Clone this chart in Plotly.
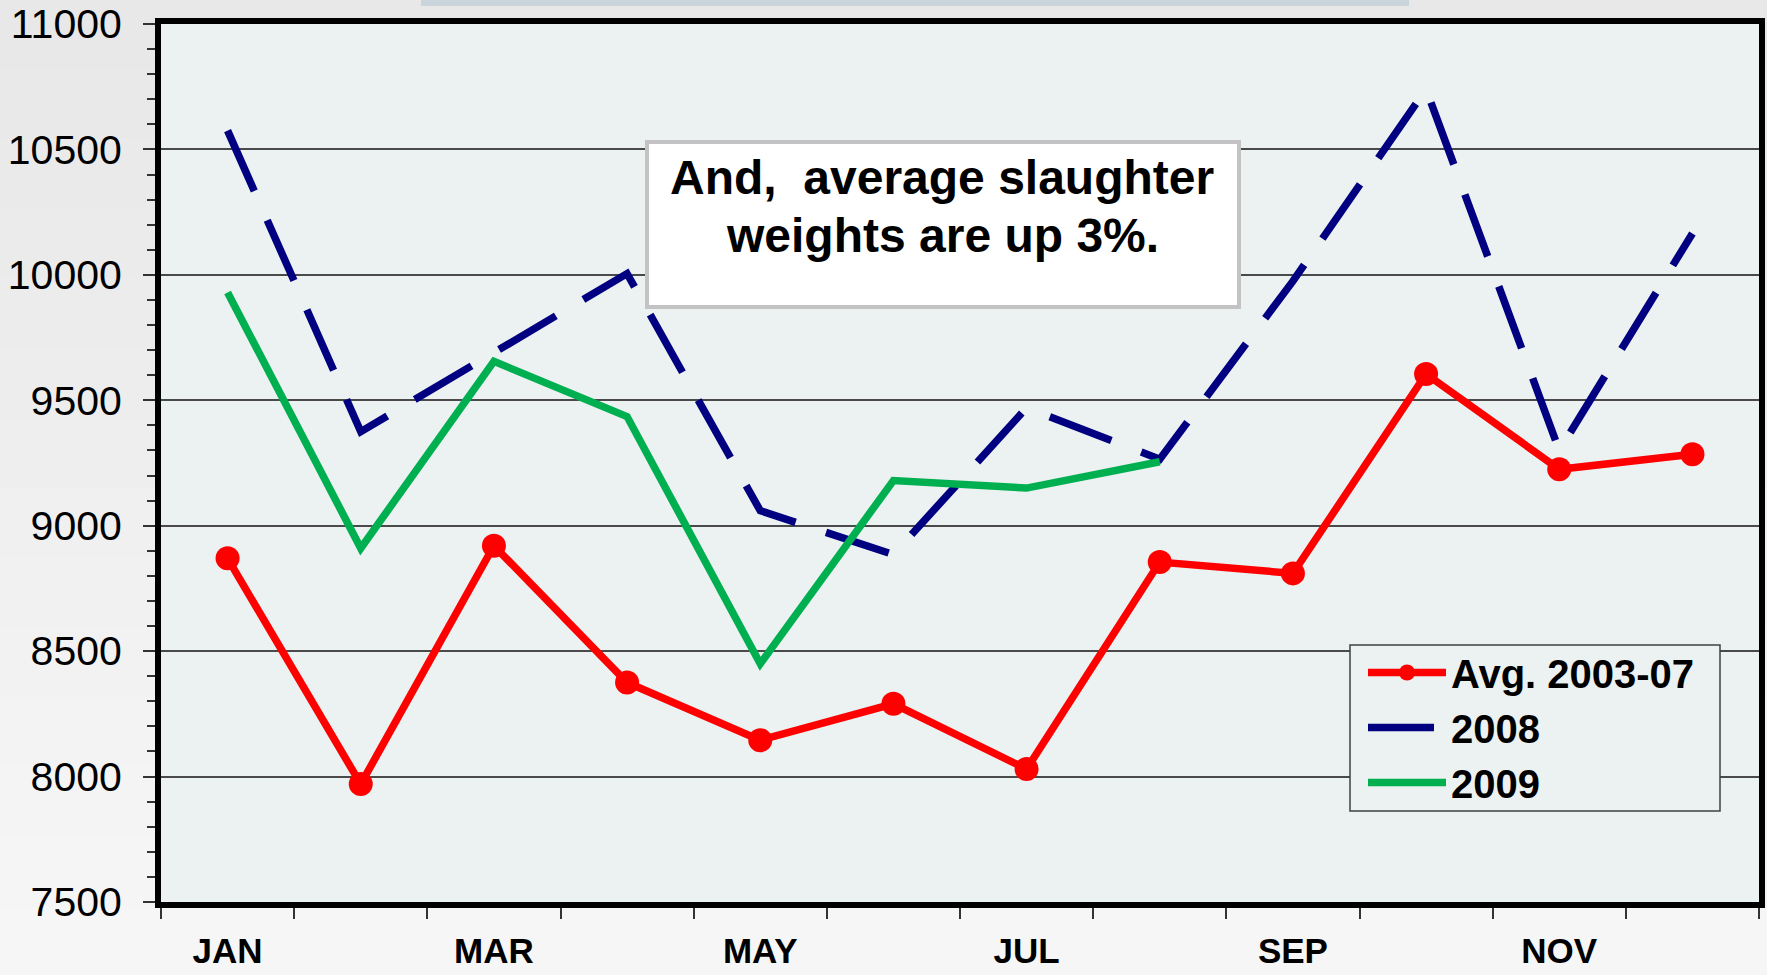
import plotly.graph_objects as go

months = ["JAN", "FEB", "MAR", "APR", "MAY", "JUN", "JUL", "AUG", "SEP", "OCT", "NOV", "DEC"]
month_labels = ["JAN", "", "MAR", "", "MAY", "", "JUL", "", "SEP", "", "NOV", ""]

avg_2003_07 = [8870, 7970, 8920, 8375, 8145, 8290, 8030, 8855, 8810, 9605, 9225, 9285]
y2008 = [10575, 9375, 9690, 10005, 9060, 8885, 9470, 9265, 9975, 10740, 9300, 10165]
y2009 = [9930, 8910, 9655, 9435, 8450, 9180, 9150, 9255]

y_ticks = [7500, 8000, 8500, 9000, 9500, 10000, 10500, 11000]
y_ticktext = [str(v) for v in y_ticks]

FONT = "Arial, 'Liberation Sans', sans-serif"

fig = go.Figure()
fig.add_trace(go.Scatter(
    x=months, y=avg_2003_07, name="Avg. 2003-07", mode="lines+markers",
    line=dict(color="#ff0000", width=7.5), marker=dict(size=24, color="#ff0000"),
    legendgroup="a"))
fig.add_trace(go.Scatter(
    x=months, y=y2008, name="2008", mode="lines",
    line=dict(color="#000080", width=7.5, dash="66px,32px"),
    legendgroup="b"))
fig.add_trace(go.Scatter(
    x=months[:len(y2009)], y=y2009, name="2009", mode="lines",
    line=dict(color="#00b050", width=7.5),
    legendgroup="c"))

W, H = 1767, 975
L, R, T, B = 161, 8, 24, 73
pw = W - L - R
ph = H - T - B


def px(xp):
    return (xp - L) / pw


def py(yp):
    return (H - B - yp) / ph


shapes = []
# subtle vertical gradient of the slide background
n_bands = 14
for i in range(n_bands):
    g = 0xe8 + round(i * (0xf6 - 0xe8) / (n_bands - 1))
    shapes.append(dict(
        type="rect", xref="paper", yref="paper",
        x0=px(0), x1=px(W), y0=py(H * (i + 1) / n_bands), y1=py(H * i / n_bands),
        fillcolor=f"rgb({g},{g},{g})", line=dict(width=0), layer="below"))
# plot area background
shapes.append(dict(type="rect", xref="paper", yref="paper", x0=0, x1=1, y0=0, y1=1,
                   fillcolor="#ecf1f1", line=dict(width=0), layer="below"))
# faint bar at top of slide
shapes.append(dict(type="rect", xref="paper", yref="paper", x0=px(421), x1=px(1409),
                   y0=py(6), y1=py(0), fillcolor="#c9d5db", line=dict(width=0), layer="below"))
# text box
shapes.append(dict(type="rect", xref="paper", yref="paper", x0=px(647), x1=px(1239),
                   y0=py(307), y1=py(142), fillcolor="#ffffff",
                   line=dict(color="#c3c3c3", width=4), layer="above"))
# legend frame
shapes.append(dict(type="rect", xref="paper", yref="paper", x0=px(1350), x1=px(1720),
                   y0=py(811), y1=py(645), fillcolor="#ecf1f1",
                   line=dict(color="#404040", width=1.5), layer="above"))

annotations = [
    dict(xref="paper", yref="paper", x=px(942), y=py(177), text="<b>And,  average slaughter</b>",
         showarrow=False, font=dict(family=FONT, size=48, color="#000000"),
         xanchor="center", yanchor="middle"),
    dict(xref="paper", yref="paper", x=px(942), y=py(236), text="<b>weights are up 3%.</b>",
         showarrow=False, font=dict(family=FONT, size=48, color="#000000"),
         xanchor="center", yanchor="middle"),
]

fig.update_layout(
    width=W, height=H,
    margin=dict(l=L, r=R, t=T, b=B, autoexpand=False),
    paper_bgcolor="#eeeeee",
    plot_bgcolor="rgba(0,0,0,0)",
    font=dict(family=FONT, color="#000000"),
    showlegend=True,
    legend=dict(
        x=px(1363), y=py(640), xanchor="left", yanchor="top",
        bgcolor="rgba(0,0,0,0)", borderwidth=0,
        font=dict(family=FONT, size=40, color="#000000", weight="bold"),
        itemwidth=78, tracegroupgap=0,
    ),
    shapes=shapes,
    annotations=annotations,
)

fig.update_xaxes(
    type="category", categoryorder="array", categoryarray=months,
    range=[-0.5, 11.5], automargin=False,
    tickmode="array", tickvals=months, ticktext=month_labels,
    tickson="boundaries", ticks="outside", ticklen=11, tickcolor="#333333", tickwidth=1.5,
    showline=True, linecolor="#000000", linewidth=6, mirror=True,
    showgrid=False, zeroline=False,
    tickfont=dict(family=FONT, size=35, color="#000000", weight="bold"),
    ticklabelstandoff=13,
)
fig.update_yaxes(
    range=[7500, 11000], automargin=False,
    tickmode="array", tickvals=y_ticks, ticktext=y_ticktext,
    ticks="outside", ticklen=12, tickcolor="#333333", tickwidth=1.5,
    minor=dict(dtick=100, tick0=7500, ticks="outside", ticklen=8, tickcolor="#333333",
               tickwidth=1.5, showgrid=False),
    showline=True, linecolor="#000000", linewidth=6, mirror=True,
    showgrid=True, gridcolor="#4a4a4a", gridwidth=1.5, zeroline=False,
    tickfont=dict(family=FONT, size=41, color="#000000"),
    ticklabelstandoff=13,
)

fig.write_html(
    "out.html",
    config={"displayModeBar": False},
    post_script="document.body.style.margin='0px';document.body.style.background='#eeeeee';",
)
